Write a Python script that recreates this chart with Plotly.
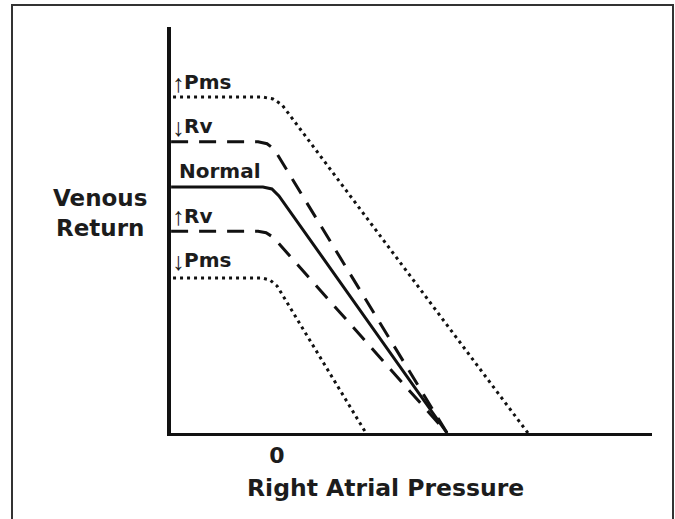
import plotly.graph_objects as go

# ---- data (right atrial pressure in mmHg, venous return in L/min) ----
normal_x = [-4.36, -0.58, -0.21, 0.08, 7.0]
normal_y = [5.0, 5.0, 4.96, 4.82, 0.0]

pms_up_x = [-4.28, -0.62, -0.165, 0.206, 10.33]
pms_up_y = [6.83, 6.83, 6.79, 6.67, 0.0]

rv_down_x = [-4.36, -0.78, -0.41, -0.12, 7.0]
rv_down_y = [5.92, 5.92, 5.88, 5.77, 0.0]

rv_up_x = [-4.36, -0.78, -0.45, -0.16, 7.0]
rv_up_y = [4.10, 4.10, 4.07, 3.98, 0.0]

pms_down_x = [-4.28, -0.62, -0.29, 0.0, 3.66]
pms_down_y = [3.15, 3.15, 3.11, 2.99, 0.0]

tick_vals = [0]
tick_text = ["0"]

label_words = ["Pms", "Rv", "Normal", "Rv", "Pms"]
label_arrows = ["↑", "↓", "", "↑", "↓"]

x_title = "Right Atrial Pressure"
y_title = "Venous Return"

# ---- layout geometry (pixels) ----
W, H = 675, 519
L, R, T, B = 171, 23, 27, 86
PW, PH = W - L - R, H - T - B


def pxx(x):
    return (x - L) / PW


def pxy(y):
    return (H - B - y) / PH


INK = "#111111"
TXT = "#1c1c1c"

fig = go.Figure()

dot = dict(color=INK, width=3, dash="3px,4px")
dash = dict(color=INK, width=3, dash="17px,11px")
solid = dict(color=INK, width=3)

fig.add_trace(go.Scatter(x=pms_up_x, y=pms_up_y, mode="lines", line=dot, name="↑Pms"))
fig.add_trace(go.Scatter(x=pms_down_x, y=pms_down_y, mode="lines", line=dot, name="↓Pms"))
fig.add_trace(go.Scatter(x=rv_down_x, y=rv_down_y, mode="lines", line=dash, name="↓Rv"))
fig.add_trace(go.Scatter(x=rv_up_x, y=rv_up_y, mode="lines", line=dash, name="↑Rv"))
fig.add_trace(go.Scatter(x=normal_x, y=normal_y, mode="lines", line=solid, name="Normal"))

annotations = []
label_y = [82, 126, 170.5, 216, 260]
for word, arr, yc in zip(label_words, label_arrows, label_y):
    left = 180 if word == "Normal" else 185
    annotations.append(dict(
        x=pxx(left - 3), y=pxy(yc), xref="paper", yref="paper",
        xanchor="left", yanchor="middle", showarrow=False, text=word,
        font=dict(family="DejaVu Sans", size=20, color=TXT, weight="bold"),
    ))
    if arr:
        annotations.append(dict(
            x=pxx(178.5), y=pxy(yc + 0.5), xref="paper", yref="paper",
            xanchor="center", yanchor="middle", showarrow=False, text=arr,
            font=dict(family="Liberation Sans", size=25, color=TXT),
        ))

annotations.append(dict(
    x=pxx(100), y=pxy(212.5), xref="paper", yref="paper",
    xanchor="center", yanchor="middle", showarrow=False,
    text=y_title.replace(" ", "<br>"),
    font=dict(family="DejaVu Sans", size=23, color=TXT, weight="bold"),
))
annotations.append(dict(
    x=pxx(385.5), y=pxy(488), xref="paper", yref="paper",
    xanchor="center", yanchor="middle", showarrow=False, text=x_title,
    font=dict(family="DejaVu Sans", size=23.5, color=TXT, weight="bold"),
))

fig.update_layout(
    width=W, height=H,
    margin=dict(l=L, r=R, t=T, b=B, pad=0),
    paper_bgcolor="white", plot_bgcolor="white",
    showlegend=False,
    annotations=annotations,
    shapes=[dict(
        type="rect", xref="paper", yref="paper",
        x0=pxx(12), x1=pxx(673), y0=pxy(540), y1=pxy(5),
        line=dict(color="#333333", width=2), layer="above",
    )],
)

fig.update_xaxes(
    range=[-4.364, 15.438], showgrid=False, zeroline=False,
    showline=True, linewidth=3, linecolor=INK,
    tickmode="array", tickvals=tick_vals, ticktext=tick_text, ticks="",
    tickfont=dict(family="DejaVu Sans", size=22, color=TXT, weight="bold"),
    ticklabelstandoff=1,
)
fig.update_yaxes(
    range=[0, 8.252], showgrid=False, zeroline=False,
    showline=True, linewidth=4, linecolor=INK,
    showticklabels=False, ticks="",
)

fig.write_html(
    "out.html",
    config={"displayModeBar": False},
    post_script="document.body.style.margin='0px';",
)
